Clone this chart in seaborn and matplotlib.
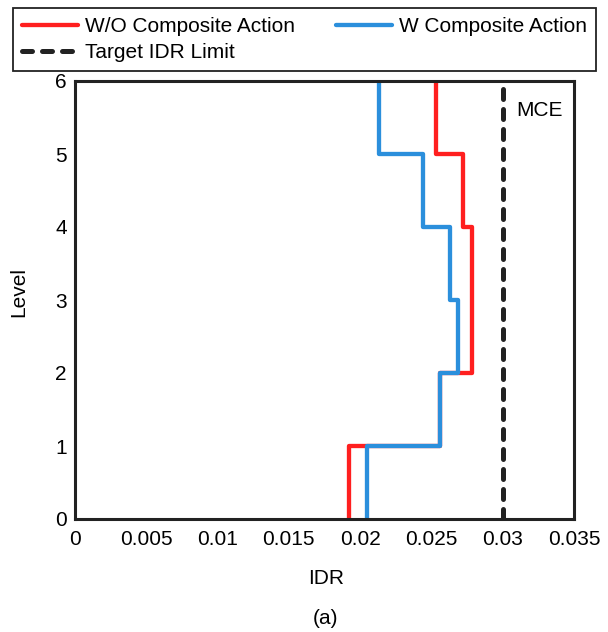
import numpy as np
import pandas as pd
import seaborn as sns
import matplotlib
matplotlib.use('Agg')
import matplotlib.pyplot as plt

# story drift ratios, story 1 (level 0-1) up to story 6 (level 5-6)
levels = [0, 1, 2, 3, 4, 5, 6]
idr_wo = [0.01924, 0.0256, 0.02788, 0.02788, 0.02724, 0.02532]
idr_w = [0.02046, 0.0256, 0.02689, 0.0263, 0.02439, 0.02134]
target_idr = 0.03
x_ticks = [0, 0.005, 0.01, 0.015, 0.02, 0.025, 0.03, 0.035]
x_tick_labels = ['0', '0.005', '0.01', '0.015', '0.02', '0.025', '0.03', '0.035']

red = '#ff1f1f'
blue = '#2b8fdc'
dark = '#222222'

sns.set_style('white')
plt.rcParams['font.family'] = ['Liberation Sans', 'DejaVu Sans']
plt.rcParams['text.color'] = 'black'
fs = 15


def step_frame(idr):
    # vertical step profile: each story drift holds between its two levels
    xs = np.repeat(idr, 2)
    ys = np.column_stack([levels[:-1], levels[1:]]).ravel()
    return pd.DataFrame({'IDR': xs, 'Level': ys})


fig = plt.figure(figsize=(6.08, 6.32), dpi=100)
ax = fig.add_axes([75 / 608, 1 - 519 / 632, 499 / 608, 438 / 632])

sns.lineplot(data=step_frame(idr_wo), x='IDR', y='Level', sort=False, estimator=None,
             color=red, linewidth=3.1, ax=ax, label='W/O Composite Action')
sns.lineplot(data=step_frame(idr_w), x='IDR', y='Level', sort=False, estimator=None,
             color=blue, linewidth=3.1, ax=ax, label='W Composite Action')
target = pd.DataFrame({'IDR': [target_idr, target_idr], 'Level': [levels[0], levels[-1]]})
sns.lineplot(data=target, x='IDR', y='Level', sort=False, estimator=None,
             color=dark, linewidth=3.6, ax=ax, label='Target IDR Limit')
tline = ax.get_lines()[-1]
tline.set_linestyle((0, (2.0, 2.0)))
tline.set_dash_capstyle('round')

ax.text(0.03093, 5.6, 'MCE', fontsize=fs, ha='left', va='center', color='black')

ax.set_xlim(0, 0.035)
ax.set_ylim(0, 6)
ax.set_xticks(x_ticks)
ax.set_xticklabels(x_tick_labels)
ax.set_yticks(levels)
ax.tick_params(direction='in', length=4.5, width=1.8, color=dark, labelsize=fs,
               labelcolor='black')
ax.tick_params(axis='x', pad=8)
ax.tick_params(axis='y', pad=6)
for sp in ax.spines.values():
    sp.set_visible(True)
    sp.set_color(dark)
    sp.set_linewidth(2.2)
ax.set_xlabel('')
ax.set_ylabel('')
fig.text(326 / 608, 1 - 579 / 632, 'IDR', fontsize=fs, ha='center', va='center')
fig.text(19 / 608, 1 - 292 / 632, 'Level', fontsize=fs, ha='center', va='center', rotation=90)
fig.text(326 / 608, 1 - 619 / 632, '(a)', fontsize=fs, ha='center', va='center')

handles, labels = ax.get_legend_handles_labels()
ax.get_legend().remove()
order = [0, 2, 1]
leg = fig.legend([handles[i] for i in order], [labels[i] for i in order], ncol=2,
                 loc='upper left', bbox_to_anchor=(13 / 608, 1 - 8 / 632),
                 borderaxespad=0, fontsize=fs, fancybox=False, framealpha=1,
                 edgecolor=dark, handlelength=2.7, handletextpad=0.34,
                 columnspacing=1.95, labelspacing=0.33, borderpad=0.43)
leg.get_frame().set_linewidth(1.3)

fig.savefig('out.png', dpi=100)
